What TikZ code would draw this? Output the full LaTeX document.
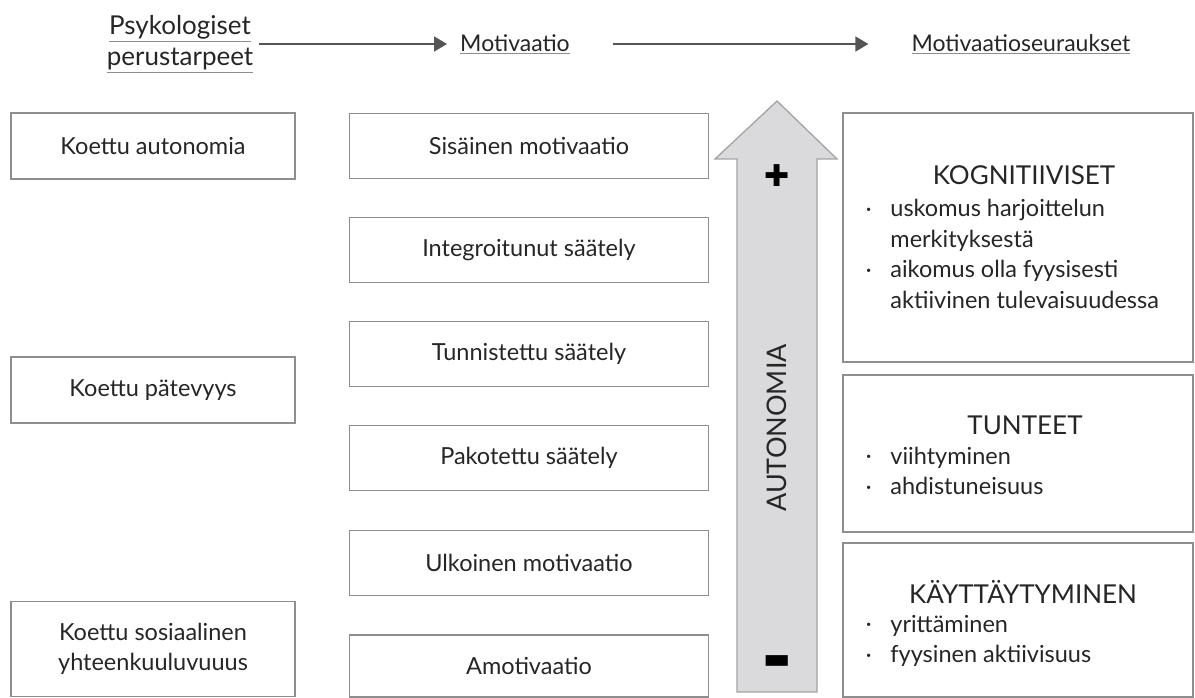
\documentclass[tikz,border=0pt]{standalone}
\usepackage{fontspec}
\setmainfont{Lato}
\newfontfamily\signfont{DejaVu Sans}
\usetikzlibrary{arrows.meta}

\definecolor{ink}{HTML}{262626}
\definecolor{boxline}{HTML}{8E8E8E}
\definecolor{arrowfill}{HTML}{DADADC}
\definecolor{arrowline}{HTML}{A3A3A3}
\definecolor{headarrow}{HTML}{555555}

\newcommand{\txtsize}{\fontsize{23.5}{30.5}\selectfont}
\newcommand{\headsize}{\fontsize{23}{31}\selectfont}
\newcommand{\titlesize}{\fontsize{26}{30}\selectfont}
\newcommand{\uln}[1]{{\color{boxline}\underline{\color{ink}#1}}}
\newcommand{\dotmark}{\raisebox{0.35ex}{\fontsize{9}{9}\selectfont\textbullet}}

\tikzset{
  box/.style={draw=boxline, line width=1.5pt, align=center, font=\txtsize, text=ink, inner sep=0pt},
  leftbox/.style={box, minimum width=284pt, minimum height=66pt},
  midbox/.style={box, minimum width=359pt, minimum height=65pt},
  rightbox/.style={box, minimum width=350pt},
  head/.style={font=\headsize, text=ink, align=center, inner sep=2pt},
  flow/.style={draw=headarrow, line width=1.6pt, -{Triangle[length=13pt, width=15pt]}},
  title/.style={font=\titlesize, text=ink, inner sep=0pt},
  bullets/.style={font=\txtsize, text=ink, anchor=base west, inner sep=0pt}
}

\begin{document}
\begin{tikzpicture}[x=1pt, y=-1pt]
\useasboundingbox (0,0) rectangle (1195,698);

% header row
\node[head, font=\fontsize{26}{31}\selectfont] (psy) at (180,44) {\uln{Psykologiset}\\ \uln{perustarpeet}};
\node[head] (mot) at (515,44) {\uln{Motivaatio}};
\node[head] (seur) at (1021,44) {\uln{Motivaatioseuraukset}};
\draw[flow, shorten <=4pt, shorten >=11pt] (psy) -- (mot);
\draw[flow, shorten <=41pt, shorten >=41pt] (mot) -- (seur);

% psychological needs
\node[leftbox] (aut) at (153,146) {Koettu autonomia};
\node[leftbox] (pat) at (153,390) {Koettu pätevyys};
\node[leftbox, minimum height=95pt] (sos) at (153,649) {Koettu sosiaalinen\\yhteenkuuluvuuus};

% motivation continuum
\node[midbox] (sis) at (529,146) {Sisäinen motivaatio};
\node[midbox] (int) at (529,250) {Integroitunut säätely};
\node[midbox] (tun) at (529,354) {Tunnistettu säätely};
\node[midbox] (pak) at (529,458) {Pakotettu säätely};
\node[midbox] (ulk) at (529,563) {Ulkoinen motivaatio};
\node[midbox, minimum height=62pt] (amo) at (529,666) {Amotivaatio};

% autonomy arrow
\draw[draw=arrowline, fill=arrowfill, line width=1.3pt]
  (777,101) -- (837,159) -- (817,159) -- (817,692) -- (737,692) -- (737,159) -- (715,159) -- cycle;
\node[font=\signfont\fontsize{30}{30}\selectfont, inner sep=0pt] (plus) at (777,176) {✚};
\node[font=\signfont\fontsize{29}{29}\selectfont, inner sep=0pt] (minus) at (777,662) {▬};
\node[font=\fontsize{27}{27}\selectfont, text=ink, rotate=90, inner sep=0pt] (autlab) at (777,428) {AUTONOMIA};

% consequences
\node[rightbox, minimum height=249pt] (kog) at (1018,237.5) {};
\node[rightbox, minimum height=157pt] (tunt) at (1018,453.5) {};
\node[rightbox, minimum height=154pt] (kay) at (1018,620) {};

\node[title] (kogT) at (1024,175) {KOGNITIIVISET};
\node[bullets] (kogL) at (866,217) {\begin{tabular}[t]{@{}l@{\hspace{19pt}}l@{}}
  \dotmark & uskomus harjoittelun\\ & merkityksestä\\
  \dotmark & aikomus olla fyysisesti\\ & aktiivinen tulevaisuudessa\end{tabular}};

\node[title] (tuntT) at (1025,425) {TUNTEET};
\node[bullets] (tuntL) at (866,464) {\begin{tabular}[t]{@{}l@{\hspace{19pt}}l@{}}
  \dotmark & viihtyminen\\ \dotmark & ahdistuneisuus\end{tabular}};

\node[title] (kayT) at (1023,592) {KÄYTTÄYTYMINEN};
\node[bullets] (kayL) at (866,632) {\begin{tabular}[t]{@{}l@{\hspace{19pt}}l@{}}
  \dotmark & yrittäminen\\ \dotmark & fyysinen aktiivisuus\end{tabular}};
\end{tikzpicture}
\end{document}
